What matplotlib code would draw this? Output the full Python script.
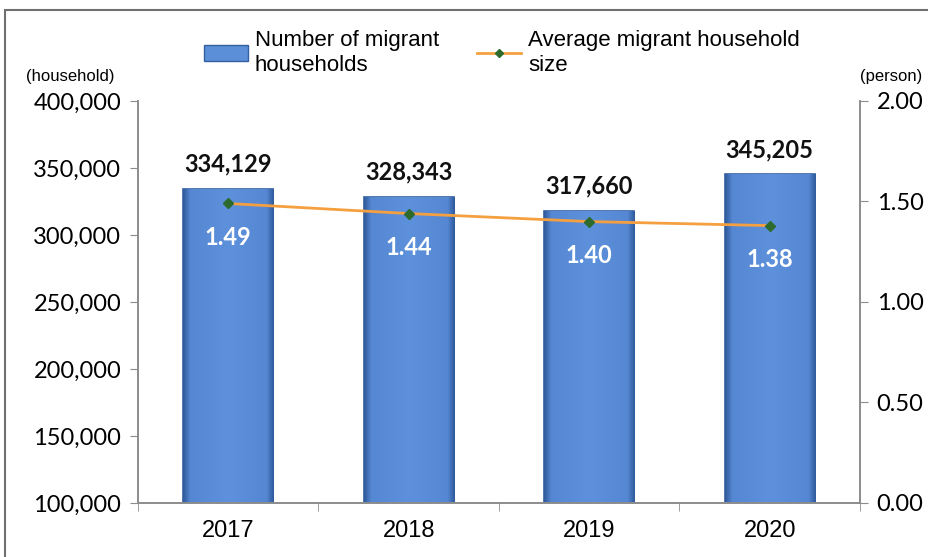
import matplotlib.pyplot as plt
from matplotlib.patches import Rectangle
from matplotlib.lines import Line2D
from matplotlib.ticker import FuncFormatter
from matplotlib.colors import LinearSegmentedColormap
import numpy as np

# data
years = ['2017', '2018', '2019', '2020']
households = [334129, 328343, 317660, 345205]
hh_size = [1.49, 1.44, 1.40, 1.38]

narrow = ['Liberation Sans Narrow', 'Liberation Sans', 'DejaVu Sans']
round_font = ['Lato', 'DejaVu Sans']

fig = plt.figure(figsize=(9.29, 5.57), dpi=100)
ax = fig.add_axes([0.1485, 0.097, 0.7772, 0.7217])
ax2 = ax.twinx()

x = np.arange(len(years))
bar_col = '#5b8fd8'
bars = ax.bar(x, households, width=0.5, color=bar_col, edgecolor='#34609f',
              linewidth=1.2, zorder=2)

# flat fill with darker bevelled sides
cmap = LinearSegmentedColormap.from_list('bev', [(0, '#2f5a9c'), (0.08, '#5587d2'),
                                                 (0.5, '#5e91db'), (0.92, '#5587d2'),
                                                 (1, '#2f5a9c')])
grad = np.linspace(0, 1, 256).reshape(1, -1)
for b in bars:
    im = ax.imshow(grad, cmap=cmap, aspect='auto', zorder=2.1,
                   extent=[b.get_x(), b.get_x() + b.get_width(), 100000, b.get_height()])
    im.set_clip_path(b)

ax.set_xlim(-0.5, 3.5)
ax.set_ylim(100000, 400000)
ax.set_yticks(np.arange(100000, 400001, 50000))
ax.yaxis.set_major_formatter(FuncFormatter(lambda v, p: f'{int(v):,}'))
ax2.set_ylim(0, 2)
ax2.set_yticks(np.arange(0, 2.01, 0.5))
ax2.yaxis.set_major_formatter(FuncFormatter(lambda v, p: f'{v:.2f}'))

ax2.plot(x, hh_size, color='#f5a040', linewidth=2, marker='D', markersize=5,
         markerfacecolor='#2d6a2d', markeredgecolor='#2d6a2d', zorder=3)

# bar value labels
for xi, v in zip(x, households):
    ax.text(xi, v + 10000, f'{v:,}', ha='center', va='bottom', fontsize=17,
            fontweight='bold', family=round_font, color='#111111', zorder=5)
for xi, v in zip(x, hh_size):
    ax2.text(xi, v - 0.17, f'{v:.2f}', ha='center', va='center', fontsize=17,
             fontweight='bold', family=round_font, color='white', zorder=4)

# axis styling
for a in (ax, ax2):
    a.spines['top'].set_visible(False)
    for s in ('left', 'right', 'bottom'):
        a.spines[s].set_color('#8c8c8c')
        a.spines[s].set_linewidth(1.2)
ax.set_xticks(x)
ax.set_xticklabels(years, fontsize=17, family=narrow)
ax.set_xticks(np.arange(-0.5, 3.6, 1), minor=True)
ax.tick_params(axis='x', which='major', length=0, pad=12)
ax.tick_params(axis='x', which='minor', length=6, color='#8c8c8c', direction='out')
ax.tick_params(axis='y', length=6, color='#8c8c8c', labelsize=17, pad=6,
               labelfontfamily='Lato')
ax2.tick_params(axis='y', length=6, color='#8c8c8c', labelsize=17, pad=6,
                labelfontfamily='Lato')

fig.text(0.028, 0.862, '(household)', fontsize=12, family=narrow, ha='left', va='center')
fig.text(0.993, 0.862, '(person)', fontsize=12, family=narrow, ha='right', va='center')

# legend
handles = [Rectangle((0, 0), 1, 1, facecolor=bar_col, edgecolor='#34609f'),
           Line2D([0], [0], color='#f5a040', linewidth=2, marker='D', markersize=4,
                  markerfacecolor='#2d6a2d', markeredgecolor='#2d6a2d')]
fig.legend(handles, ['Number of migrant\nhouseholds', 'Average migrant household\nsize'],
           loc='center', bbox_to_anchor=(0.54, 0.905), ncol=2, frameon=False,
           prop={'family': narrow, 'size': 16}, handlelength=2.0, handletextpad=0.3,
           columnspacing=1.7, labelspacing=0.2)

# outer frame
fig.patches.append(Rectangle((0.005, -0.05), 1.1, 1.032, transform=fig.transFigure,
                             fill=False, edgecolor='#707070', linewidth=1.5))

fig.savefig('out.png', dpi=100)
